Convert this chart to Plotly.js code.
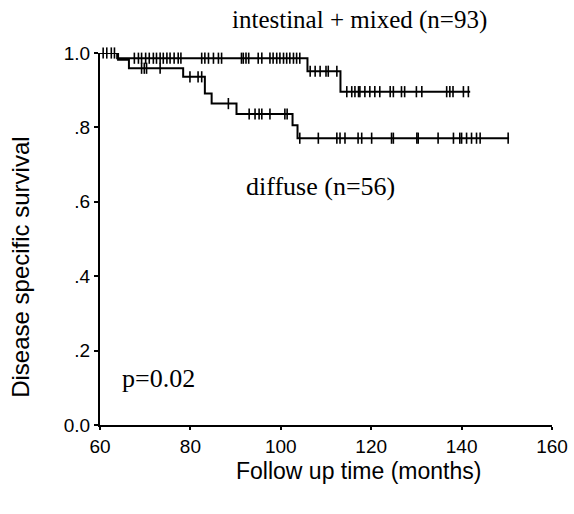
<!DOCTYPE html>
<html>
<head>
<meta charset="utf-8">
<script src="https://cdn.plot.ly/plotly-3.0.1.min.js"></script>
<style>html,body{margin:0;padding:0;background:#fff;}#chart{width:574px;height:514px;}</style>
</head>
<body>
<div id="chart"></div>
<script>
// Step survival curves (time in months, survival proportion)
const intTimes = [60, 63.8, 105.9, 113.2, 141.9];
const intSurv  = [1.0, 0.986, 0.951, 0.896, 0.896];
const diffTimes = [60, 64.0, 66.4, 78.4, 83.2, 84.7, 90.2, 102.6, 103.7, 150.5];
const diffSurv  = [1.0, 0.982, 0.959, 0.936, 0.891, 0.864, 0.836, 0.806, 0.771, 0.771];

// Censoring times
const intCensored = [61.5, 62.5, 67.6, 68.5, 69.2, 70.1, 70.9, 71.8, 72.5, 73.3, 74.0, 74.8, 75.5, 76.4, 77.3, 77.9,
  82.5, 83.2, 84.0, 85.1, 86.2, 86.9, 91.3, 91.7, 92.3, 92.9, 95.0, 95.8, 97.6, 98.3, 99.1, 99.8, 100.6, 101.3,
  102.0, 102.8, 103.5, 104.2, 106.5, 107.6, 108.7, 110.0, 110.5, 112.4, 114.6, 115.7, 116.4, 117.2, 117.5, 118.6,
  119.7, 120.8, 121.9, 124.2, 124.9, 126.7, 127.4, 130.0, 131.2, 136.7, 137.4, 138.1, 140.4, 141.5];
const diffCensored = [60.7, 63.2, 69.2, 69.8, 70.3, 73.3, 79.9, 81.7, 82.5, 88.4, 93.0, 94.3, 95.2, 95.8, 97.6,
  100.9, 101.4, 104.2, 108.3, 112.4, 113.1, 114.2, 117.1, 117.9, 120.1, 124.5, 124.9, 130.1, 130.4, 134.8, 138.2,
  139.6, 140.0, 141.1, 142.2, 143.3, 144.1, 150.3];

const yTickVals = [0, 0.2, 0.4, 0.6, 0.8, 1.0];
const yTickText = ['0.0', '.2', '.4', '.6', '.8', '1.0'];
const xTickVals = [60, 80, 100, 120, 140, 160];

function survAt(times, surv, t) {
  let s = surv[0];
  for (let i = 0; i < times.length; i++) { if (times[i] <= t) s = surv[i]; }
  return s;
}

const lineStyle = {color: '#000', width: 2, shape: 'hv'};
const censMarker = {symbol: 'line-ns', size: 8, line: {color: '#000', width: 1.6}, color: '#000'};

const traces = [
  {x: intTimes, y: intSurv, mode: 'lines', line: lineStyle, hoverinfo: 'skip', cliponaxis: false},
  {x: diffTimes, y: diffSurv, mode: 'lines', line: lineStyle, hoverinfo: 'skip', cliponaxis: false},
  {x: intCensored, y: intCensored.map(t => survAt(intTimes, intSurv, t)), mode: 'markers', marker: censMarker, cliponaxis: false},
  {x: diffCensored, y: diffCensored.map(t => survAt(diffTimes, diffSurv, t)), mode: 'markers', marker: censMarker, cliponaxis: false}
];

const sans = {family: 'Liberation Sans, Arial, sans-serif', color: '#000'};
const serif = {family: 'Liberation Serif, Times New Roman, serif', color: '#000'};

const layout = {
  width: 574, height: 514,
  margin: {l: 100, r: 22, t: 53, b: 89},
  paper_bgcolor: '#fff', plot_bgcolor: '#fff',
  showlegend: false,
  xaxis: {
    range: [60, 160], tickvals: xTickVals, ticks: 'outside', ticklen: 3, tickwidth: 2, tickcolor: '#000',
    showline: true, linecolor: '#000', linewidth: 2, showgrid: false, zeroline: false,
    tickfont: Object.assign({size: 19}, sans), fixedrange: true
  },
  yaxis: {
    range: [0, 1], tickvals: yTickVals, ticktext: yTickText, ticks: 'outside', ticklen: 4, tickwidth: 2, tickcolor: '#000',
    showline: true, linecolor: '#000', linewidth: 2, showgrid: false, zeroline: false,
    tickfont: Object.assign({size: 19}, sans), fixedrange: true
  },
  annotations: [
    {text: 'intestinal + mixed (n=93)', xref: 'paper', yref: 'paper', x: 0.575, y: 1.089, showarrow: false,
     xanchor: 'center', yanchor: 'middle', font: Object.assign({size: 25}, serif)},
    {text: 'diffuse (n=56)', xref: 'paper', yref: 'paper', x: 0.487, y: 0.642, showarrow: false,
     xanchor: 'center', yanchor: 'middle', font: Object.assign({size: 26}, serif)},
    {text: 'p=0.02', xref: 'paper', yref: 'paper', x: 0.13, y: 0.126, showarrow: false,
     xanchor: 'center', yanchor: 'middle', font: Object.assign({size: 26}, serif)},
    {text: 'Follow up time (months)', xref: 'paper', yref: 'paper', x: 0.573, y: -0.124, showarrow: false,
     xanchor: 'center', yanchor: 'middle', font: Object.assign({size: 23}, sans)},
    {text: 'Disease specific survival', xref: 'paper', yref: 'paper', x: -0.175, y: 0.425, showarrow: false,
     textangle: -90, xanchor: 'center', yanchor: 'middle', font: Object.assign({size: 24}, sans)}
  ]
};

Plotly.newPlot('chart', traces, layout, {staticPlot: true, displayModeBar: false});
</script>
</body>
</html>
